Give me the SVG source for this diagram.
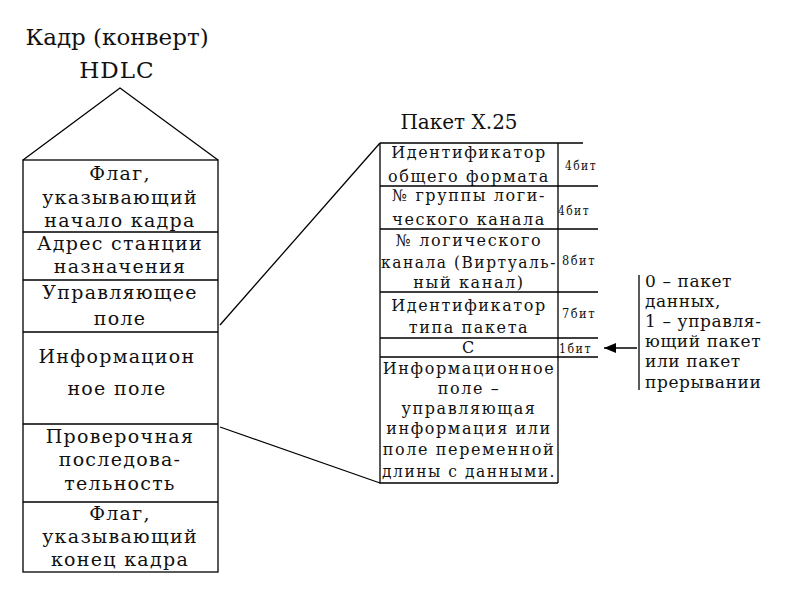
<svg xmlns="http://www.w3.org/2000/svg" width="800" height="600" viewBox="0 0 800 600">
<defs>
<style>
.ln{stroke:#000;stroke-width:1.3;fill:none}
.t{fill:#111;text-anchor:middle;font-family:"DejaVu Serif",serif}
.lb{font-size:19px;letter-spacing:1.3px}
.rb{font-size:16px;letter-spacing:1.6px}
.bit{font-size:12px;text-anchor:start}
.note{font-size:17px;letter-spacing:0.6px;text-anchor:start}
</style>
<marker id="ah" markerWidth="12" markerHeight="10" refX="12" refY="5" orient="auto" markerUnits="userSpaceOnUse">
<path d="M0,0 L12,5 L0,10 Z" fill="#000"/>
</marker>
</defs>
<rect width="800" height="600" fill="#fff"/>
<g id="title">
<text class="t" x="117" y="45" font-size="23">Кадр (конверт)</text>
<text class="t" x="117" y="78" font-size="23" letter-spacing="1">HDLC</text>
</g>
<g id="roof"><path class="ln" d="M23,160 L120,88 L218,160"/></g>
<g id="hdlc-frame">
<rect class="ln" x="23" y="160" width="195" height="412"/>
<path class="ln" d="M23,232 H218 M23,280 H218 M23,332 H218 M23,424 H218 M23,502 H218"/>
</g>
<g id="flag-start" class="t lb">
<text x="120" y="180">Флаг,</text>
<text x="120" y="204">указывающий</text>
<text x="120" y="227">начало кадра</text>
</g>
<g id="address" class="t lb">
<text x="120" y="250">Адрес станции</text>
<text x="120" y="273">назначения</text>
</g>
<g id="control" class="t lb">
<text x="120" y="299">Управляющее</text>
<text x="120" y="325">поле</text>
</g>
<g id="info" class="t lb">
<text x="117" y="363">Информацион</text>
<text x="117" y="395">ное поле</text>
</g>
<g id="fcs" class="t lb">
<text x="120" y="443">Проверочная</text>
<text x="120" y="466">последова-</text>
<text x="120" y="490">тельность</text>
</g>
<g id="flag-end" class="t lb">
<text x="120" y="520">Флаг,</text>
<text x="120" y="543">указывающий</text>
<text x="120" y="566">конец кадра</text>
</g>
<g id="x25-title">
<text class="t" x="459" y="129" font-size="20">Пакет X.25</text>
</g>
<g id="x25-packet">
<path class="ln" d="M380,143 H583 M380,186 H598 M380,229 H598 M380,292 H598 M380,338 H598 M380,357 H598 M380,143 V483 H558 M558,143 V483"/>
</g>
<g id="gfi" class="t rb">
<text x="469" y="158">Идентификатор</text>
<text x="469" y="182">общего формата</text>
<text class="t bit" x="565" y="170" textLength="32" lengthAdjust="spacingAndGlyphs">4бит</text>
</g>
<g id="lcg" class="t rb">
<text x="469" y="201">№ группы логи-</text>
<text x="469" y="225">ческого канала</text>
<text class="t bit" x="558" y="215" textLength="32" lengthAdjust="spacingAndGlyphs">4бит</text>
</g>
<g id="lcn" class="t rb">
<text x="469" y="246">№ логического</text>
<text x="469" y="268" textLength="176" lengthAdjust="spacingAndGlyphs">канала (Виртуаль-</text>
<text x="469" y="288">ный канал)</text>
<text class="t bit" x="562" y="265" textLength="34" lengthAdjust="spacingAndGlyphs">8бит</text>
</g>
<g id="pti" class="t rb">
<text x="469" y="311">Идентификатор</text>
<text x="469" y="333">типа пакета</text>
<text class="t bit" x="562" y="318" textLength="34" lengthAdjust="spacingAndGlyphs">7бит</text>
</g>
<g id="c-bit" class="t rb">
<text x="469" y="353">С</text>
<text class="t bit" x="559" y="353" textLength="33" lengthAdjust="spacingAndGlyphs">1бит</text>
</g>
<g id="x25-info" class="t rb">
<text x="469" y="374">Информационное</text>
<text x="469" y="394">поле –</text>
<text x="469" y="414">управляющая</text>
<text x="469" y="434">информация или</text>
<text x="469" y="455">поле переменной</text>
<text x="469" y="477" textLength="174" lengthAdjust="spacingAndGlyphs">длины с данными.</text>
</g>
<g id="note">
<path class="ln" d="M639,275 V390"/>
<text class="t note" x="645" y="287">0 – пакет</text>
<text class="t note" x="645" y="307">данных,</text>
<text class="t note" x="645" y="327">1 – управля-</text>
<text class="t note" x="645" y="347">ющий пакет</text>
<text class="t note" x="645" y="367">или пакет</text>
<text class="t note" x="645" y="388">прерывании</text>
</g>
<g id="connectors">
<path class="ln" d="M220,325 L380,143"/>
<path class="ln" d="M220,427 L380,483"/>
<path class="ln" d="M637,348 H604" marker-end="url(#ah)"/>
</g>
</svg>
